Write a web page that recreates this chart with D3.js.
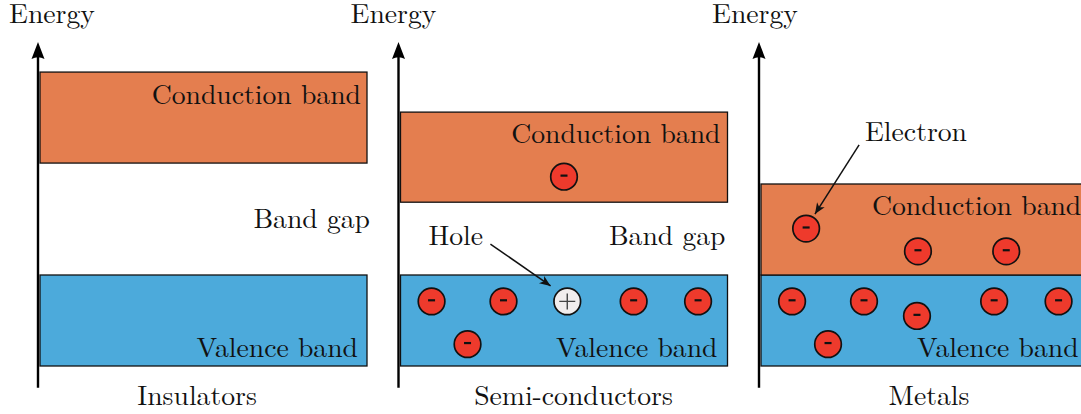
<!DOCTYPE html>
<html><head><meta charset="utf-8">
<script src="https://cdn.jsdelivr.net/npm/d3@7"></script>
<style>
body{margin:0;background:#fff;}
svg{display:block;}
</style>
</head><body><svg id="c" width="1081" height="414"></svg>
<script>
// ---- data ----
const panels = ["Insulators", "Semi-conductors", "Metals"];
const axisLabel = "Energy";
// band edges in energy units (valence band = 0..10)
const valenceLow = [0, 0, 0];
const valenceHigh = [10, 10, 10];
const conductionLow = [22.3, 18, 10];
const conductionHigh = [32.3, 27.9, 20];
// electrons: panel index, position along band (0-100), energy
const electronPanel = [1, 1, 1, 1, 1, 1, 2, 2, 2, 2, 2, 2, 2, 2, 2];
const electronPos   = [50, 9.5, 31.5, 71.3, 91, 20.5, 13.8, 48, 75, 9.5, 31.5, 47.7, 71.3, 91, 20.5];
const electronE     = [20.8, 7.1, 7.1, 7.1, 7.1, 2.4, 15.1, 12.6, 12.6, 7.1, 7.1, 5.5, 7.1, 7.1, 2.4];
const holePanel = [1];
const holePos = [51];
const holeE = [7.1];

// ---- layout ----
const FONT = "'Latin Modern Roman','Liberation Serif',serif";
const svg = d3.select("#c");
const panelScale = d3.scaleBand().domain(panels).range([38, 38 + 3 * 360.5]).padding(0);
const y = d3.scaleLinear().domain([0, 10]).range([366, 275]);
const x = d3.scaleLinear().domain([0, 100]).range([2, 329]);
const axisTop = 35.6, axisBottom = -2.4;
const orange = "#E47E4F", blue = "#4CAADB", red = "#EE3A2C", holeFill = "#F1EDED";

const defs = svg.append("defs");
defs.append("marker").attr("id", "stealth").attr("viewBox", "-12 -6 14 12")
  .attr("refX", 0).attr("refY", 0).attr("markerWidth", 14).attr("markerHeight", 12)
  .attr("markerUnits", "userSpaceOnUse").attr("orient", "auto")
  .append("path").attr("d", "M0,0 L-11,-4.5 L-8,0 L-11,4.5 Z").attr("fill", "#111");

const g = svg.append("g");
function styleText(sel) {
  return sel.style("font-family", FONT).style("font-size", "27.7px").style("fill", "#111");
}

panels.forEach((p, i) => {
  const ox = panelScale(p);
  const pg = g.append("g").attr("transform", `translate(${ox},0)`);
  pg.append("rect").attr("x", x(0)).attr("width", x(100) - x(0))
    .attr("y", y(valenceHigh[i])).attr("height", y(valenceLow[i]) - y(valenceHigh[i]))
    .attr("fill", blue).attr("stroke", "#111").attr("stroke-width", 1.3);
  pg.append("rect").attr("x", x(0)).attr("width", x(100) - x(0))
    .attr("y", y(conductionHigh[i])).attr("height", y(conductionLow[i]) - y(conductionHigh[i]))
    .attr("fill", orange).attr("stroke", "#111").attr("stroke-width", 1.3);
  pg.append("line").attr("x1", 0).attr("x2", 0)
    .attr("y1", y(axisBottom)).attr("y2", y(axisTop) + 10)
    .attr("stroke", "#000").attr("stroke-width", 2.4);
  pg.append("path").attr("transform", `translate(0,${y(axisTop)})`)
    .attr("d", "M0,0 L-6.5,17 Q0,13.5 6.5,17 Z").attr("fill", "#000");
  const eOff = [14, -5, -4][i];
  styleText(pg.append("text").attr("x", eOff).attr("y", 23).attr("text-anchor", "middle")).text(axisLabel);
  const tOff = [159, 175, 170][i];
  styleText(pg.append("text").attr("x", tOff).attr("y", 405).attr("text-anchor", "middle")).text(p);
});

function P(i) { return panelScale(panels[i]); }

const labels = [
  [0, "Conduction band", 323, 104, "end"],
  [0, "Band gap", 332, 228, "end"],
  [0, "Valence band", 320, 357, "end"],
  [1, "Conduction band", 322, 143, "end"],
  [1, "Band gap", 327, 245, "end"],
  [1, "Hole", 30, 245, "start"],
  [1, "Valence band", 319, 357, "end"],
  [2, "Electron", 106, 141, "start"],
  [2, "Conduction band", 113, 215, "start"],
  [2, "Valence band", 158, 357, "start"]
];
styleText(g.selectAll("text.lbl").data(labels).join("text").attr("class", "lbl")
  .attr("x", d => P(d[0]) + d[2]).attr("y", d => d[3])
  .attr("text-anchor", d => d[4])).text(d => d[1]);

const arrows = [
  [1, 27.5, 13.4, 45.9, 8.8],
  [2, 30, 24.3, 16.5, 16.7]
];
g.selectAll("line.ann").data(arrows).join("line").attr("class", "ann")
  .attr("x1", d => P(d[0]) + x(d[1])).attr("y1", d => y(d[2]))
  .attr("x2", d => P(d[0]) + x(d[3])).attr("y2", d => y(d[4]))
  .attr("stroke", "#111").attr("stroke-width", 1.5).attr("marker-end", "url(#stealth)");

const electrons = electronPanel.map((p, k) => ({p, pos: electronPos[k], e: electronE[k]}));
const eg = g.selectAll("g.el").data(electrons).join("g").attr("class", "el")
  .attr("transform", d => `translate(${P(d.p) + x(d.pos)},${y(d.e)})`);
eg.append("circle").attr("r", 13.3).attr("fill", red).attr("stroke", "#111").attr("stroke-width", 1.7);
eg.append("rect").attr("x", -3.5).attr("y", -2.2).attr("width", 7).attr("height", 2.2).attr("fill", "#111");

const holes = holePanel.map((p, k) => ({p, pos: holePos[k], e: holeE[k]}));
const hg = g.selectAll("g.hole").data(holes).join("g").attr("class", "hole")
  .attr("transform", d => `translate(${P(d.p) + x(d.pos)},${y(d.e)})`);
hg.append("circle").attr("r", 13.3).attr("fill", holeFill).attr("stroke", "#111").attr("stroke-width", 1.7);
hg.append("path").attr("d", "M-8,0 H8 M0,-8 V8").attr("stroke", "#444").attr("stroke-width", 1.4);
</script>
</body></html>
